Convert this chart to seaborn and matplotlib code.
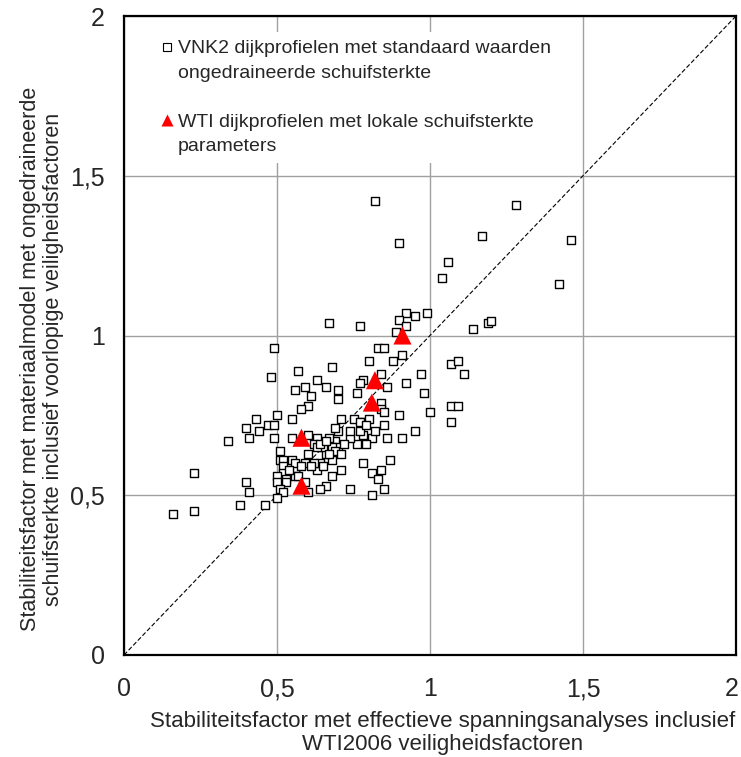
import matplotlib
matplotlib.use("Agg")
import matplotlib.pyplot as plt
from matplotlib.lines import Line2D
from matplotlib.transforms import ScaledTranslation
import seaborn as sns
import pandas as pd

# --- data -------------------------------------------------------------
vnk2_x = [0.82, 1.28, 0.90, 1.17, 1.46, 1.06, 1.04, 1.42, 0.92, 0.95,
          0.99, 0.90, 0.92, 0.89, 1.14, 1.19, 1.20, 0.67, 0.77, 0.91,
          1.07, 1.09, 1.11, 0.97, 1.00, 0.98, 1.07, 1.09, 1.07, 0.95,
          0.91, 0.86, 0.81, 0.78, 0.77, 0.85, 0.76, 0.79, 0.74, 0.69,
          0.70, 0.68, 0.71, 0.68, 0.78, 0.84, 0.87, 0.81, 0.83, 0.74,
          0.85, 0.81, 0.83, 0.85, 0.88, 0.80, 0.68, 0.57, 0.84, 0.92,
          0.86, 0.78, 0.77, 0.76, 0.70, 0.70, 0.84, 0.84, 0.85, 0.90,
          0.71, 0.75, 0.78, 0.80, 0.77, 0.79, 0.82, 0.63, 0.59, 0.66,
          0.56, 0.61, 0.60, 0.58, 0.55, 0.50, 0.43, 0.47, 0.49, 0.44,
          0.40, 0.41, 0.34, 0.49, 0.49, 0.48, 0.51, 0.51, 0.52, 0.55,
          0.56, 0.59, 0.60, 0.60, 0.63, 0.62, 0.52, 0.52, 0.50, 0.53,
          0.56, 0.50, 0.53, 0.51, 0.52, 0.50, 0.46, 0.38, 0.40, 0.41,
          0.60, 0.59, 0.57, 0.63, 0.66, 0.64, 0.64, 0.66, 0.23, 0.23,
          0.16, 0.65, 0.68, 0.69, 0.67, 0.71, 0.65, 0.62, 0.58, 0.67,
          0.70, 0.69, 0.63, 0.64, 0.66, 0.55, 0.74, 0.72, 0.61, 0.54]
vnk2_y = [1.42, 1.41, 1.29, 1.31, 1.30, 1.23, 1.18, 1.16, 1.07, 1.06,
          1.07, 1.05, 1.03, 1.01, 1.02, 1.04, 1.045, 1.04, 1.03, 0.94,
          0.91, 0.92, 0.88, 0.88, 0.76, 0.82, 0.78, 0.78, 0.73, 0.70,
          0.68, 0.68, 0.68, 0.69, 0.70, 0.72, 0.66, 0.66, 0.68, 0.67,
          0.65, 0.61, 0.58, 0.56, 0.60, 0.58, 0.61, 0.57, 0.55, 0.52,
          0.52, 0.50, 0.96, 0.96, 0.92, 0.92, 0.90, 0.89, 0.88, 0.85,
          0.84, 0.86, 0.85, 0.82, 0.83, 0.80, 0.79, 0.77, 0.76, 0.75,
          0.74, 0.74, 0.73, 0.74, 0.73, 0.72, 0.70, 0.86, 0.84, 0.84,
          0.83, 0.81, 0.78, 0.77, 0.74, 0.75, 0.74, 0.72, 0.72, 0.70,
          0.71, 0.68, 0.67, 0.68, 0.96, 0.87, 0.64, 0.61, 0.61, 0.61,
          0.60, 0.60, 0.63, 0.69, 0.68, 0.66, 0.59, 0.57, 0.56, 0.55,
          0.56, 0.54, 0.54, 0.52, 0.51, 0.49, 0.47, 0.47, 0.54, 0.51,
          0.51, 0.54, 0.56, 0.58, 0.53, 0.52, 0.60, 0.63, 0.57, 0.45,
          0.44, 0.65, 0.65, 0.64, 0.63, 0.63, 0.59, 0.60, 0.59, 0.68,
          0.70, 0.71, 0.65, 0.66, 0.67, 0.68, 0.70, 0.66, 0.59, 0.58]

wti_x = [0.91, 0.82, 0.81, 0.58, 0.58]
wti_y = [1.00, 0.86, 0.79, 0.68, 0.53]

ticks = [0, 0.5, 1, 1.5, 2]
tick_labels = ["0", "0,5", "1", "1,5", "2"]

legend_vnk2 = ["VNK2 dijkprofielen met standaard waarden", "ongedraineerde schuifsterkte"]
legend_wti = ["WTI dijkprofielen met lokale schuifsterkte", "parameters"]
xlabel = "Stabiliteitsfactor met effectieve spanningsanalyses inclusief\nWTI2006 veiligheidsfactoren"
ylabel = "Stabiliteitsfactor met materiaalmodel met ongedraineerde\nschuifsterkte inclusief voorlopige veiligheidsfactoren"

# --- plot -------------------------------------------------------------
sns.set_style("white")
plt.rcParams["font.family"] = ["Liberation Sans", "DejaVu Sans"]

df_vnk2 = pd.DataFrame({"x": vnk2_x, "y": vnk2_y})
df_wti = pd.DataFrame({"x": wti_x, "y": wti_y})

fig = plt.figure(figsize=(7.41, 7.57), dpi=100)
ax = fig.add_axes([124 / 741, 1 - 655 / 757, 612 / 741, 639 / 757])

ax.set_xlim(0, 2)
ax.set_ylim(0, 2)
ax.set_xticks(ticks)
ax.set_yticks(ticks)
ax.grid(True, color="#a0a0a0", linewidth=1.0)
ax.set_axisbelow(True)

ax.plot([0, 2], [0, 2], color="black", linestyle=(0, (4, 2)), linewidth=0.8, zorder=2)

sns.scatterplot(data=df_vnk2, x="x", y="y", ax=ax, marker="s", s=40,
                facecolor="white", edgecolor="black", linewidth=1.0, zorder=3)
sns.scatterplot(data=df_wti, x="x", y="y", ax=ax, marker="^", s=170,
                color="#ff0000", edgecolor="none", linewidth=0, zorder=4)

ax.set_xticklabels(tick_labels, fontsize=18)
ax.set_yticklabels(tick_labels, fontsize=18)
ax.tick_params(axis="y", direction="out", length=5, width=1.2, color="black", pad=9)
ax.tick_params(axis="x", direction="out", length=5, width=1.2, color="black", pad=11)
# keep the right-most x tick label inside the canvas
last = ax.get_xticklabels()[-1]
last.set_transform(last.get_transform() + ScaledTranslation(-4 / 100, 0, fig.dpi_scale_trans))
for sp in ax.spines.values():
    sp.set_color("black")
    sp.set_linewidth(1.6)

ax.set_xlabel(xlabel, fontsize=16, linespacing=1.12)
ax.xaxis.set_label_coords(0.521, -0.087)
ax.set_ylabel(ylabel, fontsize=15.5, linespacing=1.15)
ax.yaxis.set_label_coords(-0.098, 0.463)

blank = Line2D([], [], linestyle="none", marker=None)
h1 = Line2D([], [], linestyle="none", marker="s", markersize=6,
            markerfacecolor="white", markeredgecolor="black", markeredgewidth=0.8)
h2 = Line2D([], [], linestyle="none", marker="^", markersize=8,
            markerfacecolor="#ff0000", markeredgecolor="none")
handles = [h1, blank, blank, h2, blank]
labels = [legend_vnk2[0], legend_vnk2[1], "", legend_wti[0], legend_wti[1]]
leg = ax.legend(handles, labels, loc="upper left", bbox_to_anchor=(0.05, 0.975),
                fontsize=14, frameon=True, facecolor="white", edgecolor="none",
                framealpha=1, fancybox=False, handlelength=0.5, handletextpad=0.3,
                labelspacing=0.35, borderpad=0.4, borderaxespad=0)
leg.set_zorder(5)

fig.savefig("out.png", dpi=100)
